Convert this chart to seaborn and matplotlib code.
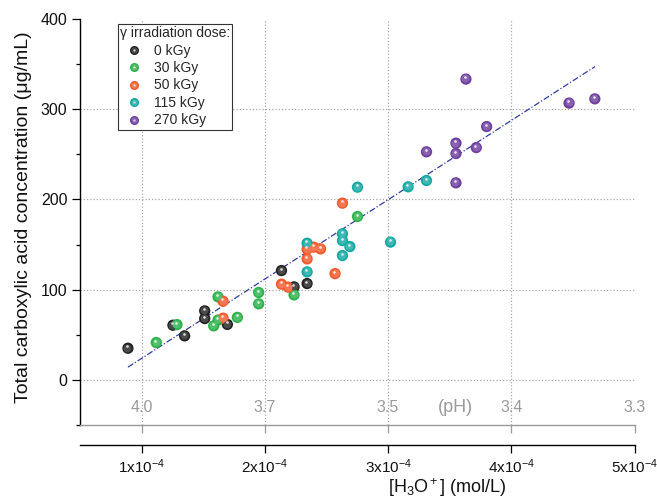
import numpy as np
import pandas as pd
import seaborn as sns
import matplotlib.pyplot as plt
from matplotlib.ticker import MultipleLocator
from matplotlib.transforms import offset_copy
from matplotlib.lines import Line2D
from matplotlib.colors import to_rgb

# ---- data ----
doses = ["0 kGy", "30 kGy", "50 kGy", "115 kGy", "270 kGy"]
colors = ["#222222", "#2bb24c", "#f15a2b", "#14a9a2", "#6e3f9e"]

h3o_0 = [0.889e-4, 1.254e-4, 1.349e-4, 1.512e-4, 1.512e-4, 1.696e-4, 2.135e-4, 2.237e-4, 2.343e-4]
tca_0 = [35.1, 60.6, 48.8, 76.5, 68.0, 61.5, 121.2, 103.1, 106.8]

h3o_30 = [1.119e-4, 1.287e-4, 1.620e-4, 1.620e-4, 1.585e-4, 1.777e-4, 1.950e-4, 1.950e-4, 2.237e-4, 2.752e-4]
tca_30 = [41.4, 61.3, 92.0, 66.3, 59.9, 69.3, 96.9, 84.3, 94.2, 181.1]

h3o_50 = [1.661e-4, 1.661e-4, 2.135e-4, 2.189e-4, 2.343e-4, 2.343e-4, 2.397e-4, 2.452e-4, 2.570e-4, 2.630e-4]
tca_50 = [87.2, 68.4, 106.1, 102.8, 134.1, 144.9, 147.1, 145.2, 117.8, 195.9]

h3o_115 = [2.343e-4, 2.343e-4, 2.630e-4, 2.630e-4, 2.630e-4, 2.690e-4, 2.752e-4, 3.020e-4, 3.163e-4, 3.312e-4]
tca_115 = [119.7, 151.5, 161.9, 154.4, 137.8, 147.8, 213.6, 152.7, 214.0, 221.0]

h3o_270 = [3.312e-4, 3.551e-4, 3.551e-4, 3.551e-4, 3.632e-4, 3.716e-4, 3.800e-4, 4.469e-4, 4.678e-4]
tca_270 = [252.8, 218.4, 250.9, 262.4, 333.4, 257.5, 280.8, 306.8, 311.5]

fit_x = [0.889e-4, 4.680e-4]
fit_y = [14.1, 347.3]

x_ticks = [1e-4, 2e-4, 3e-4, 4e-4, 5e-4]
x_ticklabels = [r"1x10$^{-4}$", r"2x10$^{-4}$", r"3x10$^{-4}$", r"4x10$^{-4}$", r"5x10$^{-4}$"]
ph_labels = ["4.0", "3.7", "3.5", "3.4", "3.3"]
y_ticks = [0, 100, 200, 300, 400]
grid_x = [1e-4, 2e-4, 3e-4, 4e-4]
grid_y = [0, 100, 200, 300]

frames = []
for d, xs, ys in zip(doses, [h3o_0, h3o_30, h3o_50, h3o_115, h3o_270],
                     [tca_0, tca_30, tca_50, tca_115, tca_270]):
    frames.append(pd.DataFrame({"h3o": xs, "tca": ys, "dose": d}))
df = pd.concat(frames, ignore_index=True)
palette = dict(zip(doses, colors))


def tint(c, f):
    r = np.array(to_rgb(c))
    return tuple(r + (1 - r) * f)


sns.set_theme(style="white")
plt.rcParams["font.family"] = ["Liberation Sans", "DejaVu Sans"]
plt.rcParams["mathtext.fontset"] = "custom"
plt.rcParams["mathtext.rm"] = "Liberation Sans"
plt.rcParams["mathtext.it"] = "Liberation Sans:italic"
plt.rcParams["mathtext.bf"] = "Liberation Sans:bold"

fig = plt.figure(figsize=(6.57, 5.0), dpi=100)
ax = fig.add_axes([80 / 657, 75 / 500, 554.5 / 657, 406 / 500])
ax.set_xlim(0.5e-4, 5e-4)
ax.set_ylim(-50, 400)

# dotted grid
grid_kw = dict(colors="#a8a8a8", linestyles=(0, (1, 1.6)), linewidth=0.9, zorder=0)
ax.hlines(grid_y, 0.5e-4, 5e-4, **grid_kw)
ax.vlines(grid_x, -50, 400, **grid_kw)

# fit line
ax.plot(fit_x, fit_y, color="#2e3d9c", lw=0.9, ls=(0, (5, 1.6, 1, 1.6)), zorder=2)

# spheres: base + lighter body + small specular spot
sns.scatterplot(data=df, x="h3o", y="tca", hue="dose", hue_order=doses,
                palette=palette, s=66, linewidth=0, legend=False, ax=ax, zorder=3)
body_tr = offset_copy(ax.transData, fig=fig, x=-0.35, y=0.45, units="points")
spot_tr = offset_copy(ax.transData, fig=fig, x=-0.6, y=1.4, units="points")
for d, c in zip(doses, colors):
    sub = df[df["dose"] == d]
    ax.scatter(sub["h3o"], sub["tca"], s=33, color=tint(c, 0.18), linewidth=0,
               transform=body_tr, zorder=3)
    ax.scatter(sub["h3o"], sub["tca"], s=3.5, color=tint(c, 0.85), linewidth=0,
               transform=spot_tr, zorder=4)

# spines / ticks
ax.spines["top"].set_visible(False)
ax.spines["right"].set_visible(False)
ax.spines["left"].set_color("black")
ax.spines["left"].set_linewidth(1.0)
ax.spines["bottom"].set_color("#9a9a9a")
ax.spines["bottom"].set_linewidth(1.0)

ax.set_yticks(y_ticks)
ax.yaxis.set_minor_locator(MultipleLocator(50))
ax.tick_params(axis="y", which="major", left=True, direction="out", length=6,
               width=0.9, color="black", labelsize=11.5, pad=3, labelcolor="#111111")
ax.tick_params(axis="y", which="minor", left=True, direction="out", length=3,
               width=0.9, color="black")
ax.set_xticks(x_ticks)
ax.set_xticklabels([])
ax.tick_params(axis="x", which="major", bottom=True, direction="out", length=6,
               width=0.9, color="#9a9a9a")
ax.set_xlabel("")

# pH labels inside the plot
for xv, lab in zip(x_ticks, ph_labels):
    ax.text(xv, -31, lab, ha="center", va="center", color="#9a9a9a", fontsize=11.5)
ax.text(3.55e-4, -31, "(pH)", ha="center", va="center", color="#9a9a9a", fontsize=13)

# [H3O+] axis below
sec = ax.secondary_xaxis(-20 / 406)
sec.set_xticks(x_ticks, labels=x_ticklabels)
sec.spines["bottom"].set_color("black")
sec.spines["bottom"].set_linewidth(1.0)
sec.tick_params(axis="x", direction="out", length=6, width=0.9, color="black",
                labelsize=11, pad=3, labelcolor="#111111")
fig.text(447 / 657, 12 / 500, r"[H$_3$O$^+$] (mol/L)", ha="center", va="center",
         fontsize=13, color="#111111")

ax.set_ylabel("Total carboxylic acid concentration (\u03bcg/mL)", fontsize=14,
              color="#111111")
ax.yaxis.set_label_coords(-0.087, 0.512)

# legend
handles = [(Line2D([], [], marker="o", ls="", color=c, ms=6.5, mew=0),
            Line2D([], [], marker="o", ls="", color=tint(c, 0.18), ms=4.5, mew=0),
            Line2D([], [], marker="o", ls="", color=tint(c, 0.85), ms=1.5, mew=0))
           for c in colors]
leg = ax.legend(handles, doses, title="\u03b3 irradiation dose:", loc="upper left",
                bbox_to_anchor=(38 / 554.5, 401 / 406), borderaxespad=0,
                fontsize=10, title_fontsize=10, alignment="left", frameon=True,
                fancybox=False, edgecolor="#333333", framealpha=1,
                borderpad=0.15, handlelength=2.0, handletextpad=0.45,
                labelspacing=0.25)
leg.get_frame().set_linewidth(0.8)

fig.savefig("out.png", dpi=100)
